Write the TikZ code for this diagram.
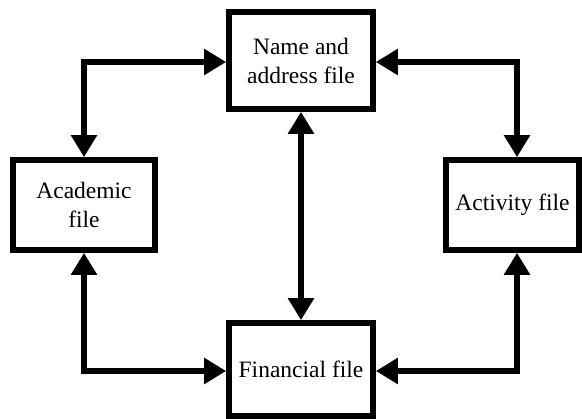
\documentclass[tikz,border=0pt]{standalone}
\usepackage{fontspec}
\setmainfont{Liberation Serif}
\usetikzlibrary{arrows.meta}
\begin{document}
\begin{tikzpicture}[x=1pt,y=-1pt,
  filebox/.style={draw=black, line width=5.7pt, fill=white, align=center, inner sep=0pt,
    font=\fontsize{23.5}{29}\selectfont},
  biarrow/.style={line width=5.7pt, draw=black,
    {Triangle[length=22pt,width=25pt]}-{Triangle[length=22pt,width=25pt]}}]
\useasboundingbox (0,0) rectangle (582,419);
\node[filebox, minimum width=144pt, minimum height=97pt] (top) at (301,60.5) {Name and\\address file};
\node[filebox, minimum width=142pt, minimum height=90pt] (acad) at (84,205) {Academic\\file};
\node[filebox, minimum width=133pt, minimum height=90pt] (act) at (512.5,205) {Activity file};
\node[filebox, minimum width=144pt, minimum height=93pt] (fin) at (301,369.5) {Financial file};
\draw[biarrow] (acad.north) |- ([yshift=-1.5pt]top.west);
\draw[biarrow] ([yshift=-1.5pt]top.east) -| ([xshift=4.5pt]act.north);
\draw[biarrow] (top.south) -- (fin.north);
\draw[biarrow] (acad.south) |- ([yshift=-1.5pt]fin.west);
\draw[biarrow] ([xshift=4.5pt]act.south) |- ([yshift=-1.5pt]fin.east);
\end{tikzpicture}
\end{document}
